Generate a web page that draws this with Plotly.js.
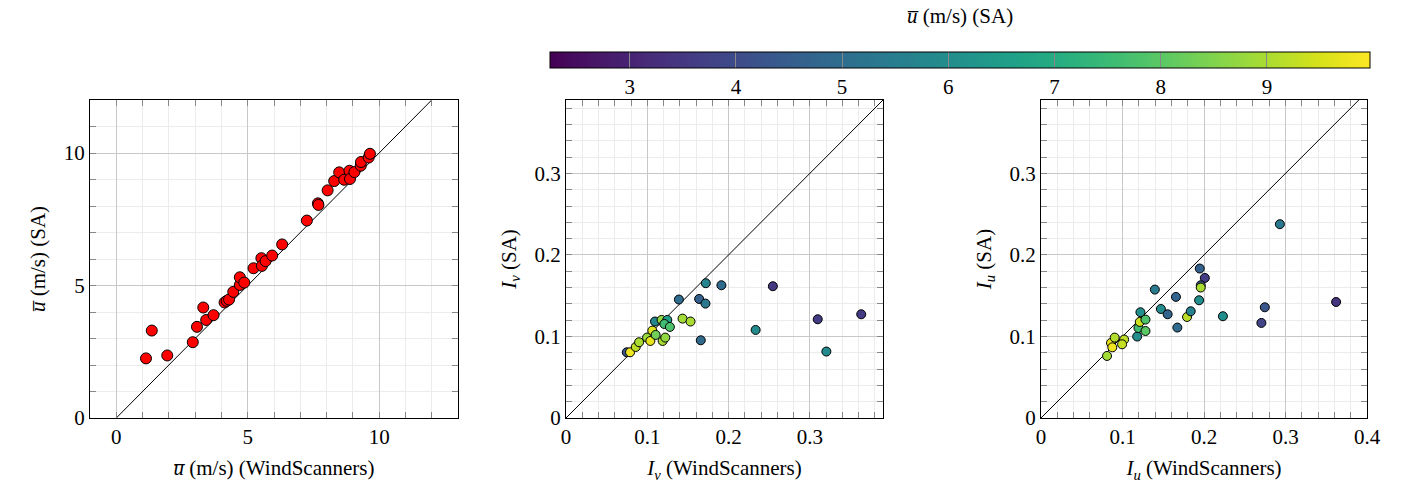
<!DOCTYPE html>
<html>
<head>
<meta charset="utf-8">
<script src="https://cdn.plot.ly/plotly-3.0.1.min.js"></script>
<style>html,body{margin:0;padding:0;background:#fff;}#chart{width:1411px;height:493px;}</style>
</head>
<body>
<div id="chart"></div>
<script>
// Panel 1: mean wind speed, WindScanners vs SA
const uWS = [1.13,1.35,1.94,2.91,3.07,3.31,3.42,3.70,4.12,4.20,4.29,4.45,4.70,4.70,4.87,5.22,5.52,5.54,5.68,5.93,6.31,7.25,7.67,7.69,8.04,8.29,8.48,8.67,8.87,8.89,9.06,9.30,9.31,9.60,9.65];
const uSA = [2.25,3.30,2.36,2.86,3.44,4.17,3.70,3.88,4.36,4.42,4.47,4.76,5.02,5.31,5.11,5.65,6.03,5.74,5.92,6.13,6.55,7.45,8.10,8.04,8.59,8.94,9.27,8.99,9.33,9.02,9.28,9.52,9.66,9.83,9.97];

// Panel 2: I_v
const ivWS = [0.0748,0.0788,0.0858,0.0899,0.0997,0.1038,0.1062,0.1103,0.1095,0.1176,0.1246,0.1210,0.1278,0.1189,0.1221,0.1389,0.1434,0.1532,0.1638,0.1720,0.1716,0.1658,0.1912,0.2333,0.2545,0.3097,0.3203,0.3632];
const ivSA = [0.0806,0.0806,0.0871,0.0929,0.0986,0.0945,0.1072,0.1019,0.1183,0.1203,0.1203,0.1153,0.1117,0.0945,0.0986,0.1453,0.1219,0.1183,0.1460,0.1653,0.1403,0.0953,0.1628,0.1080,0.1616,0.1211,0.0815,0.1272];
const ivU  = [4.3,9.8,9.2,9.0,8.8,9.7,9.6,8.3,5.8,8.7,6.5,7.6,7.8,9.0,8.7,5.0,8.9,9.0,4.6,5.7,5.3,4.9,4.9,5.9,3.5,3.6,5.9,3.6];

// Panel 3: I_u
const iuWS = [0.0810,0.0859,0.0904,0.0875,0.1020,0.0995,0.1180,0.1196,0.1282,0.1220,0.1212,0.1282,0.1397,0.1471,0.1554,0.1656,0.1673,0.1792,0.1837,0.1940,0.1948,0.2010,0.1960,0.1960,0.2232,0.2704,0.2746,0.2931,0.3621];
const iuSA = [0.0761,0.0920,0.0986,0.0867,0.0962,0.0904,0.0999,0.1104,0.1067,0.1297,0.1178,0.1207,0.1575,0.1337,0.1272,0.1485,0.1109,0.1239,0.1309,0.1444,0.1833,0.1718,0.1628,0.1600,0.1248,0.1166,0.1358,0.2377,0.1423];
const iuU  = [8.9,9.7,9.1,9.8,9.2,9.3,6.0,7.6,8.0,6.1,9.4,7.8,5.4,5.9,4.7,4.7,4.9,9.2,5.6,6.0,4.6,3.6,4.4,9.0,6.0,3.8,4.3,5.3,3.4];

// 1:1 reference lines
const diagU = [0, 12];
const diagI = [0, 0.39];

const cbTicks = [3,4,5,6,7,8,9];
const ticksU = [0,5,10];
const ticksIv = [0,0.1,0.2,0.3];
const ticksIu = [0,0.1,0.2,0.3,0.4];

const FONT = '"Liberation Serif", "Times New Roman", serif';
const W = 1411, H = 493;
const ub = '<i>u\u0305</i>';

function ax(domain, range, tickvals, minorD, anchor, title, standoff) {
  return {
    domain: domain, range: range, anchor: anchor,
    tickvals: tickvals, ticktext: tickvals.map(String),
    showline: true, linecolor: '#000', linewidth: 1, mirror: 'ticks',
    ticks: 'inside', ticklen: 6, tickcolor: '#888', tickwidth: 1,
    showgrid: true, gridcolor: '#c8c8c8', gridwidth: 1,
    zeroline: false,
    minor: {dtick: minorD, showgrid: true, gridcolor: '#ececec', ticks: 'inside', ticklen: 6, tickcolor: '#888'},
    tickfont: {family: FONT, size: 21, color: '#000'},
    title: {text: title, font: {family: FONT, size: 21, color: '#000'}, standoff: standoff},
    automargin: false, fixedrange: true
  };
}

const yd = [1 - 418/H, 1 - 100/H];

const traces = [
  {x: diagU, y: diagU, xaxis: 'x', yaxis: 'y', mode: 'lines', line: {color: '#000', width: 1}, hoverinfo: 'skip', showlegend: false},
  {x: uWS, y: uSA, xaxis: 'x', yaxis: 'y', mode: 'markers', marker: {size: 11, color: '#ff0000', line: {color: '#000', width: 1}}, showlegend: false},
  {x: diagI, y: diagI, xaxis: 'x2', yaxis: 'y2', mode: 'lines', line: {color: '#000', width: 1}, hoverinfo: 'skip', showlegend: false},
  {x: ivWS, y: ivSA, xaxis: 'x2', yaxis: 'y2', mode: 'markers', marker: {size: 9, color: ivU, coloraxis: 'coloraxis', line: {color: '#000', width: 1}}, showlegend: false},
  {x: diagI, y: diagI, xaxis: 'x3', yaxis: 'y3', mode: 'lines', line: {color: '#000', width: 1}, hoverinfo: 'skip', showlegend: false},
  {x: iuWS, y: iuSA, xaxis: 'x3', yaxis: 'y3', mode: 'markers', marker: {size: 9, color: iuU, coloraxis: 'coloraxis', line: {color: '#000', width: 1}}, showlegend: false}
];

const layout = {
  width: W, height: H,
  margin: {l: 0, r: 0, t: 0, b: 0},
  paper_bgcolor: '#fff', plot_bgcolor: '#fff',
  font: {family: FONT, size: 21, color: '#000'},
  xaxis: ax([90/W, 458/W], [-1, 13], ticksU, 1, 'y', ub + ' (m/s) (WindScanners)', 12),
  yaxis: ax(yd, [0, 12], ticksU, 1, 'x', ub + ' (m/s) (SA)', 12),
  xaxis2: ax([566/W, 883/W], [0, 0.39], ticksIv, 0.02, 'y2', '<i>I</i><sub><i>v</i></sub> (WindScanners)', 12),
  yaxis2: ax(yd, [0, 0.39], ticksIv, 0.02, 'x2', '<i>I</i><sub><i>v</i></sub> (SA)', 12),
  xaxis3: ax([1041/W, 1367/W], [0, 0.4], ticksIu, 0.02, 'y3', '<i>I</i><sub><i>u</i></sub> (WindScanners)', 12),
  yaxis3: ax(yd, [0, 0.39], ticksIv, 0.02, 'x3', '<i>I</i><sub><i>u</i></sub> (SA)', 12),
  coloraxis: {
    colorscale: 'Viridis',
    cmin: Math.min(...uSA), cmax: Math.max(...uSA),
    colorbar: {
      orientation: 'h',
      x: 960/W, xanchor: 'center',
      y: 1 - 52/H, yanchor: 'top',
      len: 820, lenmode: 'pixels',
      thickness: 16, thicknessmode: 'pixels',
      xpad: 0, ypad: 0,
      outlinewidth: 1, outlinecolor: '#000',
      ticks: 'inside', ticklen: 16, tickcolor: '#888', tickwidth: 1,
      tickvals: cbTicks,
      tickfont: {family: FONT, size: 21, color: '#000'},
      title: {text: ''}
    }
  },
  annotations: [
    {text: ub + ' (m/s) (SA)', xref: 'paper', yref: 'paper', x: 960/W, y: 1 - 16/H, xanchor: 'center', yanchor: 'middle', showarrow: false, font: {family: FONT, size: 21, color: '#000'}}
  ]
};

Plotly.newPlot('chart', traces, layout, {displayModeBar: false, staticPlot: true});
</script>
</body>
</html>
